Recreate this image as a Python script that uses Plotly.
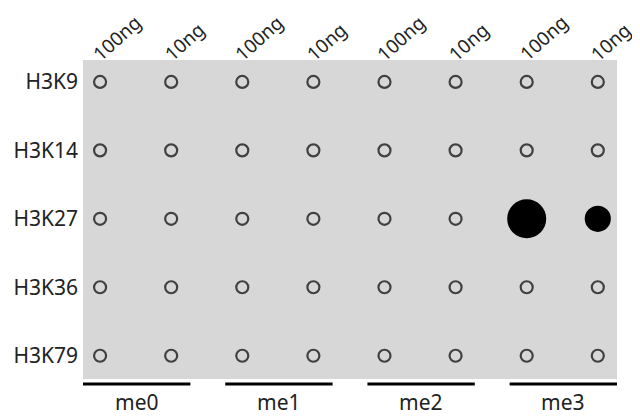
import plotly.graph_objects as go

# dot blot: 5 histone sites x 4 methylation states x 2 loading amounts
rows = ["H3K9", "H3K14", "H3K27", "H3K36", "H3K79"]
states = ["me0", "me1", "me2", "me3"]
amounts = ["100ng", "10ng"]

# relative signal per spot (0 = no signal, only the ring of the spot shows)
signal = {
    "H3K9":  [0, 0, 0, 0, 0, 0, 0, 0],
    "H3K14": [0, 0, 0, 0, 0, 0, 0, 0],
    "H3K27": [0, 0, 0, 0, 0, 0, 1.0, 0.67],
    "H3K36": [0, 0, 0, 0, 0, 0, 0, 0],
    "H3K79": [0, 0, 0, 0, 0, 0, 0, 0],
}

col_labels = [a for s in states for a in amounts]
cols = list(range(len(col_labels)))

fig = go.Figure()

# empty spots (rings)
ex, ey = [], []
# positive spots (filled)
px, py, ps = [], [], []
for r in rows:
    for c, v in zip(cols, signal[r]):
        if v > 0:
            px.append(c)
            py.append(r)
            ps.append(39 * v)
        else:
            ex.append(c)
            ey.append(r)

fig.add_trace(go.Scatter(x=ex, y=ey, mode="markers",
                         marker=dict(symbol="circle-open", size=12, color="#404040",
                                     line=dict(width=2.2, color="#404040")),
                         hoverinfo="skip", showlegend=False))
fig.add_trace(go.Scatter(x=px, y=py, mode="markers",
                         marker=dict(symbol="circle", size=ps, color="black", opacity=1,
                                     line=dict(width=0, color="black")),
                         hoverinfo="skip", showlegend=False))

# slanted loading labels above each column
for c, lab in zip(cols, col_labels):
    fig.add_annotation(x=c, y=1.0, xref="x", yref="paper", text=lab, textangle=-42,
                       showarrow=False, xanchor="left", yanchor="bottom",
                       xshift=-14, yshift=-8, borderpad=0,
                       font=dict(size=19, color="#222222"))

# underline bars and group labels below the panel
for i, s in enumerate(states):
    x0 = cols[2 * i] - 0.24
    x1 = cols[2 * i + 1] + 0.27
    fig.add_shape(type="line", xref="x", yref="paper", x0=x0, x1=x1, y0=-0.016, y1=-0.016,
                  line=dict(color="black", width=3))
    fig.add_annotation(x=(x0 + x1) / 2, y=-0.072, xref="x", yref="paper", text=s,
                       showarrow=False, font=dict(size=21, color="#222222"),
                       yanchor="middle")

fig.update_xaxes(tickvals=cols, showticklabels=False,
                 range=[-0.24, 7.27], showgrid=False, zeroline=False, ticks="",
                 automargin=False)
fig.update_yaxes(type="category", categoryarray=rows, range=[4.34, -0.32],
                 showgrid=False, zeroline=False, ticks="", ticklen=0,
                 automargin=False, ticklabelstandoff=4,
                 tickfont=dict(size=21, color="#222222"))

# page body adds an 8px offset, so the figure is 8px smaller than the window
fig.update_layout(width=632, height=408,
                  margin=dict(l=75, r=23, t=52, b=37),
                  plot_bgcolor="#d7d7d7", paper_bgcolor="white",
                  font=dict(family="Noto Sans, Open Sans, sans-serif"))

fig.write_html("out.html")
